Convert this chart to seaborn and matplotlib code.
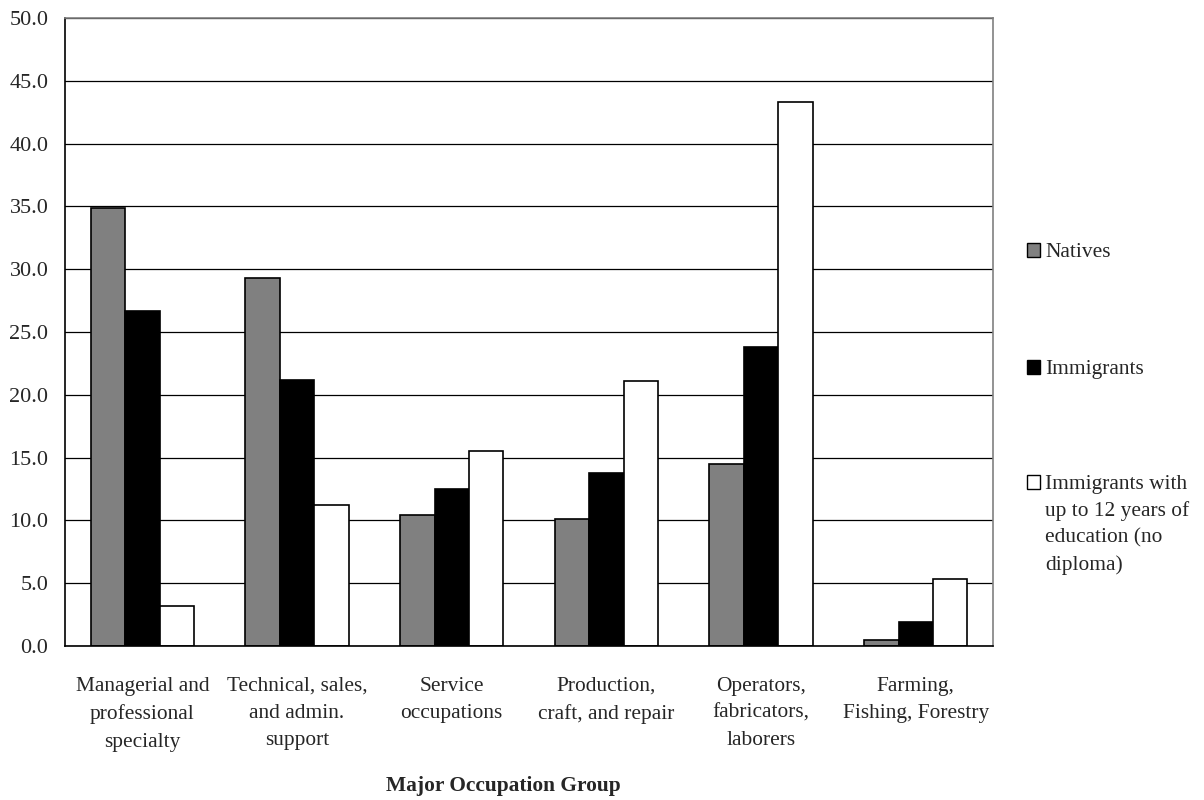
import numpy as np
import pandas as pd
import matplotlib
matplotlib.use("Agg")
import matplotlib.pyplot as plt
import matplotlib.patches as mpatches
import seaborn as sns

# -------------------------------
# data
# -------------------------------
categories = [
    "Managerial and\nprofessional\nspecialty",
    "Technical, sales,\nand admin.\nsupport",
    "Service\noccupations",
    "Production,\ncraft, and repair",
    "Operators,\nfabricators,\nlaborers",
    "Farming,\nFishing, Forestry",
]
series_names = ["Natives", "Immigrants",
                "Immigrants with\nup to 12 years of\neducation (no\ndiploma)"]
natives = [34.9, 29.3, 10.4, 10.1, 14.5, 0.5]
immigrants = [26.7, 21.2, 12.5, 13.8, 23.8, 1.9]
immigrants_low_edu = [3.2, 11.2, 15.5, 21.1, 43.3, 5.3]
y_ticks = [0, 5, 10, 15, 20, 25, 30, 35, 40, 45, 50]
bar_colors = ["#808080", "#000000", "#ffffff"]

df = pd.DataFrame({
    "group": categories * 3,
    "series": [series_names[0]] * 6 + [series_names[1]] * 6 + [series_names[2]] * 6,
    "value": natives + immigrants + immigrants_low_edu,
})

sns.set_theme(style="white")
plt.rcParams["font.family"] = ["Liberation Serif", "DejaVu Serif"]

FS = 15.4

fig = plt.figure(figsize=(12.04, 8), dpi=100)
ax = fig.add_axes([0.054, 0.1925, 0.7708, 0.785])

sns.barplot(data=df, x="group", y="value", hue="series", order=categories,
            hue_order=series_names, palette=bar_colors, width=0.667,
            edgecolor="black", linewidth=1.2, saturation=1, ax=ax)
ax.get_legend().remove()

ax.set_ylim(0, 50)
ax.set_xlim(-0.5, len(categories) - 0.5)
ax.set_yticks(y_ticks)
ax.set_yticklabels([f"{v:.1f}" for v in y_ticks], fontsize=16)
ax.set_xticks(range(len(categories)))
ax.set_xticklabels(categories, fontsize=FS, linespacing=1.6)
ax.set_xticks(np.arange(-0.5, len(categories), 1), minor=True)
ax.tick_params(axis="x", which="major", length=0, pad=22)
ax.tick_params(axis="x", which="minor", length=7, width=1, color="black", direction="out")
ax.tick_params(axis="y", length=6, width=1, color="black", direction="out", pad=6)

ax.yaxis.grid(True, color="black", linewidth=0.9)
ax.set_axisbelow(True)
for side in ["top", "right"]:
    ax.spines[side].set_color("#808080")
    ax.spines[side].set_linewidth(1.2)
for side in ["left", "bottom"]:
    ax.spines[side].set_color("black")
    ax.spines[side].set_linewidth(1.2)

ax.set_xlabel("Major Occupation Group", fontsize=FS, fontweight="bold")
ax.xaxis.set_label_coords((503 - 65) / 928, (646 - 776) / 628)
ax.set_ylabel("")

# legend, drawn by hand so the square sits by the first line of each label
legend_y = [250, 367, 482]
for name, col, yy in zip(series_names, bar_colors, legend_y):
    yf = 1 - yy / 800
    fig.patches.append(mpatches.Rectangle((1027 / 1204, yf - 7 / 800), 13 / 1204, 14 / 800,
                                          facecolor=col, edgecolor="black", linewidth=1,
                                          transform=fig.transFigure, figure=fig))
    fig.text(1045 / 1204, yf + 7 / 800, name, fontsize=FS, va="top", ha="left",
             linespacing=1.5)

fig.savefig("out.png", dpi=100)
